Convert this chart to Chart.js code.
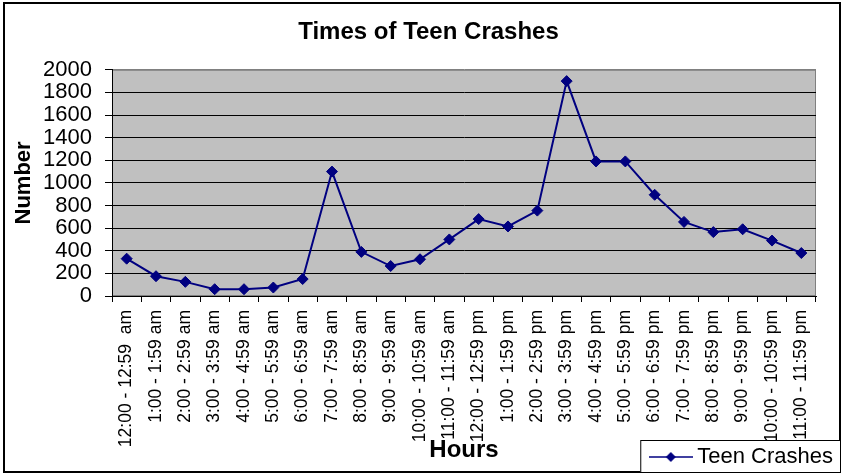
<!DOCTYPE html>
<html>
<head>
<meta charset="utf-8">
<title>Times of Teen Crashes</title>
<script src="https://cdn.jsdelivr.net/npm/chart.js@4.4.1/dist/chart.umd.min.js"></script>
<style>
  html, body { margin: 0; padding: 0; background: #fff; }
  #crashChart { display: block; }
</style>
</head>
<body>
<canvas id="crashChart" width="843" height="474"></canvas>
<script>
let hourLabels = [
    "12:00 - 12:59  am", "1:00 - 1:59 am", "2:00 - 2:59 am", "3:00 - 3:59 am",
    "4:00 - 4:59 am", "5:00 - 5:59 am", "6:00 - 6:59 am", "7:00 - 7:59 am",
    "8:00 - 8:59 am", "9:00 - 9:59 am", "10:00 - 10:59 am", "11:00 - 11:59 am",
    "12:00 - 12:59 pm", "1:00 - 1:59 pm", "2:00 - 2:59 pm", "3:00 - 3:59 pm",
    "4:00 - 4:59 pm", "5:00 - 5:59 pm", "6:00 - 6:59 pm", "7:00 - 7:59 pm",
    "8:00 - 8:59 pm", "9:00 - 9:59 pm", "10:00 - 10:59 pm", "11:00 - 11:59 pm"
];
let teenCrashes = [
    330, 175, 125, 60, 60, 75, 150, 1100, 390, 265, 325, 500,
    680, 615, 755, 1900, 1190, 1190, 895, 655, 565, 590, 490, 380
];
let seriesName = "Teen Crashes";
let yMin = 0;
let yMax = 2000;
let yStep = 200;

let lineColor = "#000080";

Chart.defaults.font.family = "'Liberation Sans', Arial, sans-serif";
Chart.defaults.color = "#000";

// little line + diamond for the legend, like excel draws it
function legendIcon() {
    let c = document.createElement("canvas");
    c.width = 44;
    c.height = 12;
    let ctx = c.getContext("2d");
    ctx.strokeStyle = lineColor;
    ctx.lineWidth = 1.5;
    ctx.beginPath();
    ctx.moveTo(0, 6);
    ctx.lineTo(44, 6);
    ctx.stroke();
    ctx.fillStyle = lineColor;
    ctx.beginPath();
    ctx.moveTo(22, 1);
    ctx.lineTo(27, 6);
    ctx.lineTo(22, 11);
    ctx.lineTo(17, 6);
    ctx.closePath();
    ctx.fill();
    return c;
}

let excelLook = {
    id: "excelLook",
    afterLayout: function (chart) {
        // title is centred on the whole frame, legend sits in the bottom right corner
        let t = chart.titleBlock;
        t.left = 17;
        t.right = 840;
        let lg = chart.legend;
        lg.left = 440;
        lg.right = 837;
        lg.width = lg.right - lg.left;
        lg.top = 442;
        lg.bottom = lg.top + lg.height;
        // let the long hour labels run down past the legend row (no clipping)
        let x = chart.scales.x;
        x.bottom = chart.height;
        x.height = x.bottom - x.top;
    },
    beforeDraw: function (chart) {
        let a = chart.chartArea;
        let ctx = chart.ctx;
        ctx.save();
        ctx.fillStyle = "#c0c0c0";
        ctx.fillRect(a.left, a.top, a.right - a.left, a.bottom - a.top);
        ctx.strokeStyle = "#808080";
        ctx.lineWidth = 1;
        ctx.strokeRect(a.left + 0.5, a.top + 0.5, a.right - a.left - 1, a.bottom - a.top - 1);
        ctx.restore();
    },
    afterDraw: function (chart) {
        let ctx = chart.ctx;
        let lg = chart.legend;
        let hb = lg.legendHitBoxes[0];
        ctx.save();
        // outer frame
        ctx.strokeStyle = "#000";
        ctx.lineWidth = 2;
        ctx.strokeRect(4, 3, chart.width - 7, chart.height - 5);
        // legend box
        let bx = hb.left - 15;
        let by = hb.top - 6;
        ctx.fillStyle = "#fff";
        ctx.fillRect(bx, by, lg.right + 3 - bx, chart.height - 2 - by);
        ctx.lineWidth = 1;
        ctx.strokeRect(bx + 0.5, by + 0.5, lg.right + 3 - bx, chart.height - 2 - by);
        ctx.restore();
        lg.draw();
    }
};

new Chart("crashChart", {
    type: "line",
    data: {
        labels: hourLabels,
        datasets: [{
            label: seriesName,
            data: teenCrashes,
            borderColor: lineColor,
            backgroundColor: lineColor,
            borderWidth: 2,
            pointStyle: "rectRot",
            pointRadius: 5.5,
            pointBorderWidth: 1,
            tension: 0,
            fill: false
        }]
    },
    options: {
        responsive: false,
        animation: false,
        devicePixelRatio: 1,
        layout: {padding: {left: 0, right: 27, top: 0, bottom: 0}},
        plugins: {
            title: {
                display: true,
                text: "Times of Teen Crashes",
                color: "#000",
                font: {size: 24, weight: "bold"},
                padding: {top: 18, bottom: 23}
            },
            legend: {
                position: "bottom",
                align: "end",
                labels: {
                    usePointStyle: true,
                    pointStyle: legendIcon(),
                    pointStyleWidth: 31,
                    padding: 4,
                    color: "#000",
                    font: {size: 22}
                }
            },
            tooltip: {enabled: false}
        },
        scales: {
            x: {
                offset: true,
                grid: {offset: true, drawOnChartArea: false, color: "#000", tickLength: 6},
                border: {color: "#000"},
                ticks: {
                    autoSkip: false,
                    minRotation: 90,
                    maxRotation: 90,
                    padding: 8,
                    color: "#000",
                    font: {size: 17.5}
                },
                title: {
                    display: true,
                    text: "Hours",
                    color: "#000",
                    font: {size: 24, weight: "bold"},
                    padding: {top: 0, bottom: 9}
                },
                afterFit: function (scale) {
                    scale.height = 142;
                }
            },
            y: {
                min: yMin,
                max: yMax,
                ticks: {
                    stepSize: yStep,
                    autoSkip: false,
                    padding: 13,
                    color: "#000",
                    font: {size: 22, lineHeight: 1},
                    callback: function (value) {
                        return String(value);
                    }
                },
                grid: {
                    color: function (c) {
                        return c.tick && c.tick.value === yMax ? "#808080" : "#000";
                    },
                    tickColor: "#000",
                    tickLength: 7
                },
                border: {color: "#000"},
                title: {
                    display: true,
                    text: "Number",
                    color: "#000",
                    font: {size: 22, weight: "bold"},
                    padding: {top: 11, bottom: 0}
                },
                afterFit: function (scale) {
                    scale.width = 112;
                }
            }
        }
    },
    plugins: [excelLook]
});
</script>
</body>
</html>
